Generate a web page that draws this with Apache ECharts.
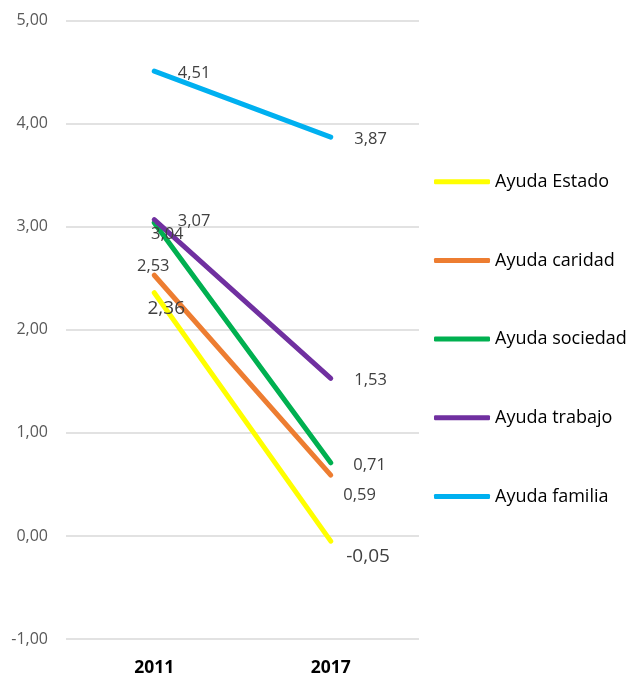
<!DOCTYPE html>
<html>
<head>
<meta charset="utf-8">
<script src="https://cdn.jsdelivr.net/npm/echarts@6/dist/echarts.min.js"></script>
<style>html,body{margin:0;padding:0;background:#fff}#c{width:632px;height:677px}</style>
</head>
<body>
<div id="c"></div>
<script>
var categories = ['2011', '2017'];
var seriesNames = ['Ayuda Estado', 'Ayuda caridad', 'Ayuda sociedad', 'Ayuda trabajo', 'Ayuda familia'];
var estado = [2.36, -0.05];
var caridad = [2.53, 0.59];
var sociedad = [3.04, 0.71];
var trabajo = [3.07, 1.53];
var familia = [4.51, 3.87];
var yTicks = [-1, 0, 1, 2, 3, 4, 5];

var colors = ['#FFFF00', '#ED7D31', '#00B050', '#7030A0', '#00B0F0'];
var values = [estado, caridad, sociedad, trabajo, familia];

// label placement per point (style only)
var labelStyles = [
  [{position: 'bottom', distance: 4, offset: [12, 2], fontSize: 19}, {position: 'right', distance: 15, offset: [0, 15], fontSize: 19}],
  [{position: 'top', distance: 1, offset: [-1, 1], fontSize: 16.5}, {position: 'right', distance: 12, offset: [0, 20], fontSize: 16.5}],
  [{position: 'bottom', distance: 1, offset: [13, 2], fontSize: 16.5}, {position: 'right', distance: 22, offset: [0, 3], fontSize: 16.5}],
  [{position: 'right', distance: 23, offset: [0, 1.5], fontSize: 16.5}, {position: 'right', distance: 23, offset: [0, 2.5], fontSize: 16.5}],
  [{position: 'right', distance: 23, offset: [0, 2], fontSize: 16.5}, {position: 'right', distance: 23, offset: [0, 2.5], fontSize: 16.5}]
];

function fmt(v) { return v.toFixed(2).replace('.', ','); }

var series = seriesNames.map(function (name, i) {
  return {
    name: name,
    type: 'line',
    symbol: 'circle',
    symbolSize: 1,
    showSymbol: true,
    color: colors[i],
    lineStyle: {width: 5, color: colors[i], cap: 'round'},
    itemStyle: {color: colors[i]},
    emphasis: {disabled: true},
    animation: false,
    data: values[i].map(function (v, j) {
      var ls = labelStyles[i][j];
      return {
        value: v,
        label: {
          show: true,
          position: ls.position,
          distance: ls.distance,
          offset: ls.offset,
          fontSize: ls.fontSize,
          color: '#404040',
          fontFamily: 'Open Sans',
          formatter: function (p) { return fmt(p.value); }
        }
      };
    })
  };
});

var chart = echarts.init(document.getElementById('c'));
chart.setOption({
  animation: false,
  backgroundColor: '#fff',
  grid: {left: 66, right: 213, top: 20.7, bottom: 36.3, containLabel: false},
  legend: {
    orient: 'vertical',
    left: 434,
    top: 170.7,
    padding: 0,
    itemWidth: 56,
    itemHeight: 5,
    itemGap: 56.7,
    icon: 'roundRect',
    textStyle: {fontSize: 18, color: '#000', fontFamily: 'Open Sans', lineHeight: 22},
    data: seriesNames
  },
  xAxis: {
    type: 'category',
    data: categories,
    boundaryGap: true,
    axisLine: {show: false},
    axisTick: {show: false},
    axisLabel: {fontSize: 17.5, fontWeight: 'bold', color: '#000', margin: 20, fontFamily: 'Open Sans'}
  },
  yAxis: {
    type: 'value',
    min: yTicks[0],
    max: yTicks[yTicks.length - 1],
    interval: 1,
    axisLine: {show: false},
    axisTick: {show: false},
    splitLine: {lineStyle: {color: '#D9D9D9', width: 1.5}},
    axisLabel: {fontSize: 16, color: '#595959', margin: 18, fontFamily: 'Open Sans', formatter: function (v) { return fmt(v); }}
  },
  series: series
});
</script>
</body>
</html>
